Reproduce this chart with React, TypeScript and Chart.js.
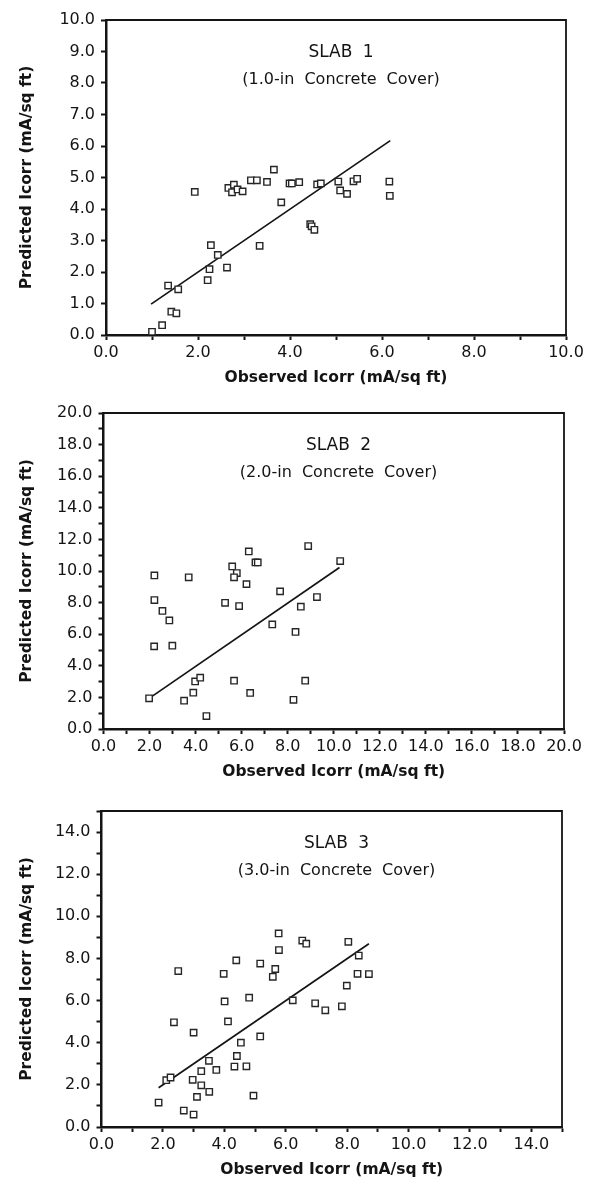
import React, { useEffect, useRef } from 'react';
import { Chart, registerables } from 'chart.js';
Chart.register(...registerables);

// ---------- DATA ----------
const slabTitles = ['SLAB 1', 'SLAB 2', 'SLAB 3'];
const slabSubtitles = ['(1.0-in Concrete Cover)', '(2.0-in Concrete Cover)', '(3.0-in Concrete Cover)'];
const xAxisTitle = 'Observed Icorr (mA/sq ft)';
const yAxisTitle = 'Predicted Icorr (mA/sq ft)';

const slab1Observed = [1.0, 1.22, 1.42, 1.53, 1.35, 1.57, 1.93, 2.21, 2.25, 2.28, 2.43, 2.63, 2.66, 2.78, 2.74, 2.86, 2.97, 3.15, 3.28, 3.34, 3.5, 3.65, 3.81, 3.99, 4.04, 4.2, 4.44, 4.47, 4.53, 4.59, 4.67, 5.05, 5.09, 5.24, 5.38, 5.46, 6.16, 6.17];
const slab1Predicted = [0.1, 0.31, 0.74, 0.69, 1.57, 1.45, 4.54, 1.74, 2.09, 2.85, 2.54, 2.14, 4.67, 4.77, 4.53, 4.62, 4.56, 4.91, 4.91, 2.83, 4.86, 5.25, 4.21, 4.81, 4.81, 4.85, 3.52, 3.45, 3.34, 4.78, 4.81, 4.87, 4.59, 4.48, 4.88, 4.96, 4.87, 4.42];
const slab1FitX = [0.98, 6.18];
const slab1FitY = [0.98, 6.17];

const slab2Observed = [1.98, 2.21, 2.21, 2.56, 2.86, 2.2, 2.99, 3.7, 3.5, 3.9, 3.98, 4.2, 4.47, 5.28, 5.59, 5.79, 5.67, 5.89, 5.67, 6.21, 6.31, 6.6, 6.7, 6.37, 7.33, 7.67, 8.34, 8.25, 8.57, 8.76, 8.89, 9.27, 10.28];
const slab2Predicted = [1.94, 9.72, 8.16, 7.47, 6.87, 5.23, 5.27, 9.6, 1.79, 2.3, 3.01, 3.25, 0.82, 7.99, 10.29, 9.87, 9.6, 7.78, 3.06, 9.17, 11.24, 10.54, 10.54, 2.28, 6.62, 8.71, 6.14, 1.85, 7.74, 3.06, 11.58, 8.35, 10.63];
const slab2FitX = [1.98, 10.25];
const slab2FitY = [1.94, 10.22];

const slab3Observed = [1.86, 2.11, 2.25, 2.36, 2.5, 2.68, 2.97, 3.0, 3.0, 3.11, 3.25, 3.25, 3.51, 3.5, 3.74, 3.98, 4.01, 4.12, 4.33, 4.41, 4.39, 4.54, 4.72, 4.81, 4.95, 5.17, 5.17, 5.58, 5.66, 5.77, 5.78, 6.23, 6.54, 6.67, 6.96, 7.29, 7.83, 8.04, 7.99, 8.38, 8.34, 8.71];
const slab3Predicted = [1.16, 2.22, 2.35, 4.97, 7.4, 0.78, 2.24, 0.59, 4.48, 1.43, 1.98, 2.65, 1.67, 3.14, 2.71, 7.27, 5.96, 5.01, 2.87, 3.37, 7.91, 4.0, 2.88, 6.14, 1.49, 7.76, 4.3, 7.13, 7.5, 9.19, 8.4, 6.01, 8.85, 8.7, 5.87, 5.54, 5.73, 8.79, 6.71, 8.14, 7.27, 7.26];
const slab3FitX = [1.86, 8.71];
const slab3FitY = [1.86, 8.7];

const axisMax = [10, 20, 15];
const labelEvery = [[2, 1], [2, 2], [2, 2]]; // [x, y] label step

// ---------- LAYOUT ----------
const W = 597;
const panels = [
  { top: 0, h: 395, padTop: 20, yW: 106, right: 566, xH: 60 },
  { top: 395, h: 395, padTop: 18, yW: 103.5, right: 564, xH: 61 },
  { top: 790, h: 396, padTop: 21, yW: 101.5, right: 562, xH: 59 },
];

const FONT = '"DejaVu Sans", sans-serif';
const INK = '#141414';

const frameAndLabels = {
  id: 'frameAndLabels',
  afterDraw(chart: any, _args: any, opts: any) {
    const { ctx, chartArea: a } = chart;
    ctx.save();
    ctx.strokeStyle = INK;
    ctx.lineWidth = 1.8;
    ctx.beginPath();
    ctx.moveTo(a.left, a.top);
    ctx.lineTo(a.right, a.top);
    ctx.lineTo(a.right, a.bottom);
    ctx.stroke();
    ctx.fillStyle = INK;
    ctx.textAlign = 'center';
    ctx.textBaseline = 'middle';
    try { (ctx as any).wordSpacing = '5px'; } catch (e) {}
    ctx.font = `17px ${FONT}`;
    ctx.fillText(opts.title, a.left + 235, a.top + 33);
    ctx.font = `16px ${FONT}`;
    ctx.fillText(opts.subtitle, a.left + 235, a.top + 60);
    ctx.restore();
  },
};

function pairs(xs: number[], ys: number[]) {
  return xs.map((x, i) => ({ x, y: ys[i] }));
}

function makeConfig(i: number): any {
  const p = panels[i];
  const obs = [slab1Observed, slab2Observed, slab3Observed][i];
  const pred = [slab1Predicted, slab2Predicted, slab3Predicted][i];
  const fx = [slab1FitX, slab2FitX, slab3FitX][i];
  const fy = [slab1FitY, slab2FitY, slab3FitY][i];
  const max = axisMax[i];
  const [lx, ly] = labelEvery[i];
  const tSize = 15.5;
  const titleFont = { family: FONT, size: tSize, weight: 'bold' as const };
  const lh = tSize * 1.2;
  const tickFont = { family: FONT, size: 16 };
  const axisCommon = (step: number) => ({
    type: 'linear',
    min: 0,
    max,
    grid: { drawOnChartArea: false, drawTicks: true, tickLength: 5, tickWidth: 2, tickColor: INK },
    border: { display: true, width: 2.5, color: INK },
    ticks: {
      stepSize: 1,
      autoSkip: false,
      maxRotation: 0,
      color: INK,
      font: tickFont,
      callback: (v: number) => (Math.abs(v % step) < 1e-9 ? v.toFixed(1) : ''),
    },
  });
  return {
    type: 'scatter',
    data: {
      datasets: [
        {
          data: pairs(obs, pred),
          pointStyle: 'rect',
          pointRadius: 4.5,
          borderWidth: 1.4,
          borderColor: '#262626',
          backgroundColor: '#ffffff',
        },
        {
          data: pairs(fx, fy),
          showLine: true,
          pointRadius: 0,
          borderWidth: 1.7,
          borderColor: INK,
          fill: false,
        },
      ],
    },
    options: {
      responsive: false,
      animation: false,
      events: [],
      layout: { padding: { top: p.padTop, right: W - p.right, left: 0, bottom: 0 } },
      plugins: {
        legend: { display: false },
        tooltip: { enabled: false },
        frameAndLabels: { title: slabTitles[i], subtitle: slabSubtitles[i] },
      },
      scales: {
        x: {
          ...axisCommon(lx),
          position: 'bottom',
          afterFit: (s: any) => { s.height = p.xH; },
          ticks: { ...axisCommon(lx).ticks, padding: 3 },
          title: { display: true, text: xAxisTitle, color: INK, font: titleFont, padding: { top: 0, bottom: p.xH - 43 - lh / 2 } },
        },
        y: {
          ...axisCommon(ly),
          position: 'left',
          afterFit: (s: any) => { s.width = p.yW; },
          ticks: { ...axisCommon(ly).ticks, padding: 6 },
          title: { display: true, text: yAxisTitle, color: INK, font: titleFont, padding: { top: 26.5 - lh / 2, bottom: 0 } },
        },
      },
    },
    plugins: [frameAndLabels],
  };
}

function Panel({ index }: { index: number }) {
  const ref = useRef<HTMLCanvasElement>(null);
  const p = panels[index];
  useEffect(() => {
    if (!ref.current) return;
    const chart = new Chart(ref.current, makeConfig(index));
    return () => chart.destroy();
  }, [index]);
  return (
    <div style={{ position: 'absolute', left: 0, top: p.top, width: W, height: p.h }}>
      <canvas ref={ref} width={W} height={p.h} style={{ display: 'block', width: W, height: p.h }} />
    </div>
  );
}

export default function App() {
  return (
    <div style={{ position: 'absolute', left: 0, top: 0, width: W, height: 1186, background: '#fff' }}>
      <Panel index={0} />
      <Panel index={1} />
      <Panel index={2} />
    </div>
  );
}
